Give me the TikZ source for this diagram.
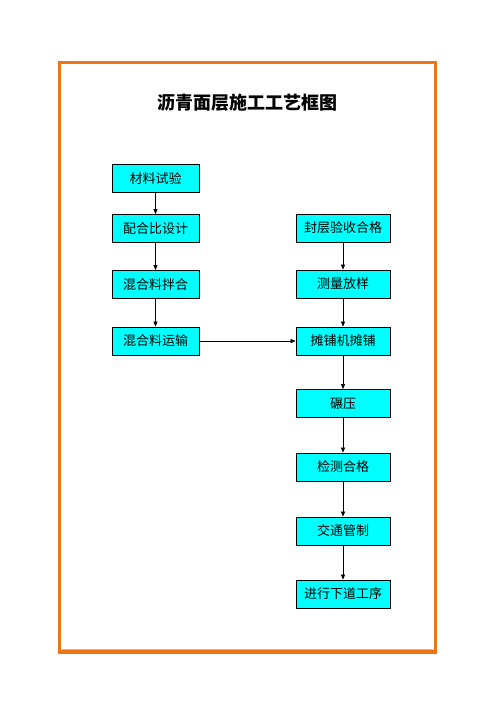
\documentclass[tikz,border=0pt]{standalone}
\usepackage{fontspec}
\newfontfamily\cjk{Noto Sans CJK SC}
\usetikzlibrary{arrows.meta}
\definecolor{frameor}{RGB}{240,115,20}
\definecolor{boxcyan}{RGB}{0,255,255}
\begin{document}
\begin{tikzpicture}[x=1pt,y=-1pt,
  stepbox/.style={draw=black,fill=boxcyan,line width=0.8pt,minimum height=28pt,inner sep=0pt,font=\cjk\fontsize{13}{15}\selectfont},
  lbox/.style={stepbox,minimum width=87pt},
  rbox/.style={stepbox,minimum width=94pt},
  conn/.style={draw=black,line width=0.6pt,-{Triangle[length=5pt,width=4pt]}}]
\useasboundingbox (0,0) rectangle (496,702);
\draw[frameor,line width=3.5pt] (59.5,62.5) rectangle (435.5,652);
\draw[frameor!60,line width=0.6pt] (62,649) -- (433,649);
\node[font=\cjk\bfseries\fontsize{18}{20}\selectfont] (title) at (247,103) {沥青面层施工工艺框图};
\node[lbox] (a1) at (155.5,178.5) {材料试验};
\node[lbox] (a2) at (155.5,228.5) {配合比设计};
\node[lbox] (a3) at (155.5,284.5) {混合料拌合};
\node[lbox] (a4) at (155.5,341) {混合料运输};
\node[rbox] (b1) at (343,228) {封层验收合格};
\node[rbox] (b2) at (343,284) {测量放样};
\node[rbox] (b3) at (343,341) {摊铺机摊铺};
\node[rbox] (b4) at (343,403.5) {碾压};
\node[rbox] (b5) at (343,467) {检测合格};
\node[rbox] (b6) at (343,531) {交通管制};
\node[rbox] (b7) at (343,594) {进行下道工序};
\draw[conn] (a1) -- (a2);
\draw[conn] (a2) -- (a3);
\draw[conn] (a3) -- (a4);
\draw[conn] (a4) -- (b3);
\draw[conn] (b1) -- (b2);
\draw[conn] (b2) -- (b3);
\draw[conn] (b3) -- (b4);
\draw[conn] (b4) -- (b5);
\draw[conn] (b5) -- (b6);
\draw[conn] (b6) -- (b7);
\end{tikzpicture}
\end{document}
